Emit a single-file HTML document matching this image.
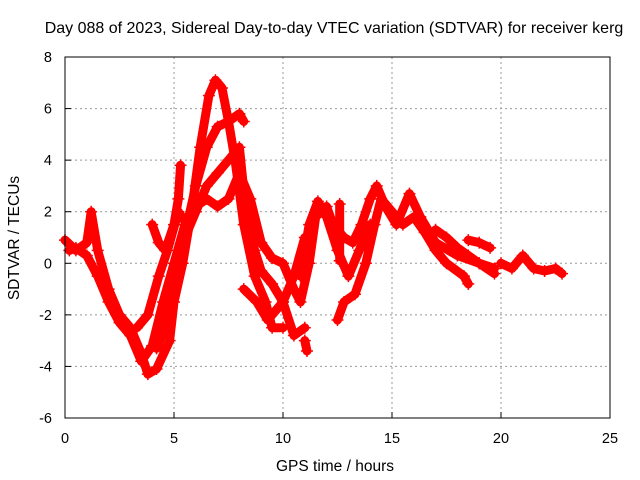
<!DOCTYPE html>
<html><head><meta charset="utf-8"><style>
body{margin:0;background:#fff}
svg{display:block;font-family:"Liberation Sans",sans-serif}
</style></head><body>
<svg id="chart" width="640" height="480">
<text x="334" y="33" font-size="16" text-anchor="middle">Day 088 of 2023, Sidereal Day-to-day VTEC variation (SDTVAR) for receiver kerg</text>
<text x="335" y="471" font-size="15.5" text-anchor="middle">GPS time / hours</text>
<text transform="translate(19,238) rotate(-90)" font-size="15.5" text-anchor="middle">SDTVAR / TECUs</text>
<g id="grid"></g><g id="marks"></g>
<rect x="65" y="57" width="545" height="361" fill="none" stroke="#000"/>
</svg>
<script>
const xTicks=[0,5,10,15,20,25];
const yTicks=[-6,-4,-2,0,2,4,6,8];
const trackA_h=[0,0.5,1,1.2,1.5,2,2.5,3,3.5,3.8,4.2,4.8,5,5.4,5.8,6.2,6.6,6.9,7.2,7.5,7.8,8.2,8.7,9.2,9.5,10];
const trackA_v=[0.9,0.5,0.8,2.0,0.5,-1,-2,-2.5,-3.5,-4.3,-4.1,-3,-1.5,0,2,4.5,6.5,7.1,6.8,5.5,4,1.5,-0.5,-1.5,-2.5,-2.5];
const trackB_h=[0.2,0.5,1,1.5,2,2.5,3,3.5,4,4.5,5,5.5,6,6.5,7,7.5,8,8.5,9,9.5,10,10.5,10.8,11.2,11.5,12,12.3,12.8,13.2,13.6,14,14.3,14.7,15.2,15.8,16.3,17,18,19,19.7];
const trackB_v=[0.5,0.6,0.3,-0.5,-1.5,-2.3,-2.8,-3.8,-3.2,-1.5,0,1.5,2.2,2.5,2.2,2.5,3.5,2.5,0.8,0.2,0,-1,-1.5,0,1.8,2.2,1.5,1,0.8,1.5,2.5,3,2.2,1.5,2.7,1.8,0.8,0.3,0,-0.2];
const trackC_h=[3.3,3.8,4.3,4.7,5.2,5.6,6,6.5,7,7.5,8,8.2];
const trackC_v=[-2.5,-2,-0.5,0.5,2,1.5,3,4.5,5.3,5.5,5.8,5.5];
const trackD_h=[4.2,4.6,5,5.5,6,6.5,7,7.5,8,8.3,8.7,9,9.5,10,10.5,11];
const trackD_v=[-3.3,-2.5,-1,1,2,3,3.5,4,4.5,2,0.5,-0.3,-0.8,-1.5,-2.8,-2.5];
const trackE_h=[4,4.3,4.6,5,5.2,5.3];
const trackE_v=[1.5,0.8,0.5,1.5,2.5,3.8];
const trackF_h=[8.2,8.8,9.3,10,10.5,11];
const trackF_v=[-1,-1.5,-2.2,-1.5,-0.5,1];
const trackF2_h=[11,11.1];
const trackF2_v=[-3,-3.4];
const trackG_h=[12.5,12.8,13.3,13.8,14.2,14.5,15,15.5,16,16.5,17,17.5,18.3,18.5];
const trackG_v=[-2.2,-1.5,-1.2,0,1.5,2.5,2,1.5,1.8,1.2,0.5,0,-0.5,-0.8];
const trackH_h=[10.8,11.2,11.6,12,12.5,13,13.5,14];
const trackH_v=[-0.5,1.5,2.4,1.8,0.5,-0.5,0.5,1.5];
const trackK_h=[12.6,12.6];
const trackK_v=[2.3,0.1];
const trackI_h=[17,17.5,18,18.5,19,19.7];
const trackI_v=[1.3,1,0.6,0.3,0,-0.4];
const trackI2_h=[18.5,19,19.5];
const trackI2_v=[0.9,0.8,0.6];
const trackJ_h=[20,20.5,21,21.5,22,22.5,22.8];
const trackJ_v=[0,-0.2,0.3,-0.2,-0.3,-0.2,-0.4];
const tracks=[[trackA_h,trackA_v],[trackB_h,trackB_v],[trackC_h,trackC_v],[trackD_h,trackD_v],[trackE_h,trackE_v],[trackF_h,trackF_v],[trackF2_h,trackF2_v],[trackG_h,trackG_v],[trackH_h,trackH_v],[trackK_h,trackK_v],[trackI_h,trackI_v],[trackI2_h,trackI2_v],[trackJ_h,trackJ_v]];
const NS="http://www.w3.org/2000/svg";
const X=h=>65+h*545/25, Y=v=>57+(8-v)*361/14;
const grid=document.getElementById('grid'), marks=document.getElementById('marks');
function mk(tag,attrs,parent){const e=document.createElementNS(NS,tag);for(const k in attrs)e.setAttribute(k,attrs[k]);parent.appendChild(e);return e;}
xTicks.forEach(t=>{
 if(t>0&&t<25){const l=mk('line',{x1:X(t),x2:X(t),y1:57,y2:418,stroke:'#999','stroke-dasharray':'2,3'},grid);
 
 }
 const tk=mk('line',{x1:X(t),x2:X(t),y1:418,y2:412,stroke:'#000'},grid);
 
 
 const tx=mk('text',{x:X(t),y:443,'font-size':14.5,'text-anchor':'middle'},grid);tx.textContent=t;
 
 
});
yTicks.forEach(t=>{
 if(t>-6&&t<8){const l=mk('line',{x1:65,x2:610,y1:Y(t),y2:Y(t),stroke:'#999','stroke-dasharray':'2,3'},grid);
 
 }
 const tk=mk('line',{x1:65,x2:71,y1:Y(t),y2:Y(t),stroke:'#000'},grid);
 
 
 const tx=mk('text',{x:52,y:Y(t)+5,'font-size':14.5,'text-anchor':'end'},grid);tx.textContent=t;
 
 
});
tracks.forEach(([hs,vs])=>{
 const pts=hs.map((h,i)=>X(h)+','+Y(vs[i])).join(' ');
 const pl=mk('polyline',{points:pts,fill:'none',stroke:'#f00','stroke-width':9,'stroke-linejoin':'round','stroke-linecap':'round'},marks);
 
 
 hs.forEach((h,i)=>{
  const p=mk('path',{d:`M${X(h)-6},${Y(vs[i])}h12M${X(h)},${Y(vs[i])-6}v12`,stroke:'#f00','stroke-width':1.5},marks);
  
  
 });
});
</script>
</body></html>
